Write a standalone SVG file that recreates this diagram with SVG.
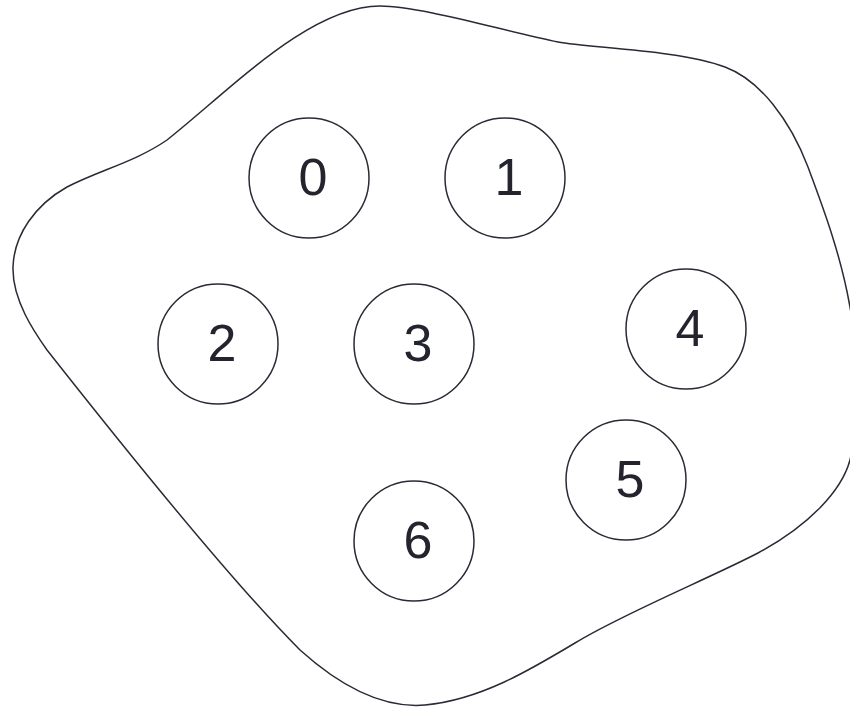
<svg xmlns="http://www.w3.org/2000/svg" width="850" height="707" viewBox="0 0 850 707">
<style>
.node circle{fill:#ffffff;stroke:#2a2a36;stroke-width:1.5}
.node text{font-family:"Liberation Sans",Arial,sans-serif;font-size:52px;fill:#24242f;text-anchor:middle}
.blob{fill:#ffffff;stroke:#2a2a36;stroke-width:1.5}
</style>
<rect width="850" height="707" fill="#ffffff"/>
<g id="region">
<path class="blob" d="M380,6 C420,6 500,30 558,42 C590,48 680,50 725,67 C760,80 790,120 808,167 C820,200 840,250 850,307 C858,350 860,420 850,460 C842,490 810,525 758,553 C710,578 620,615 575,643 C530,670 480,700 425,705 C390,708 350,695 300,650 C230,580 110,430 47,350 C35,333 12,300 13,267 C14,235 35,205 67,187 C100,170 135,162 167,140 C230,90 310,6 380,6 Z"/>
</g>
<g id="connectors"></g>
<g id="node0" class="node"><circle cx="309" cy="178" r="60"/><text x="313" y="195">0</text></g>
<g id="node1" class="node"><circle cx="505" cy="178" r="60"/><text x="509" y="195">1</text></g>
<g id="node2" class="node"><circle cx="218" cy="344" r="60"/><text x="222" y="361">2</text></g>
<g id="node3" class="node"><circle cx="414" cy="344" r="60"/><text x="418" y="361">3</text></g>
<g id="node4" class="node"><circle cx="686" cy="329" r="60"/><text x="690" y="346">4</text></g>
<g id="node5" class="node"><circle cx="626" cy="480" r="60"/><text x="630" y="497">5</text></g>
<g id="node6" class="node"><circle cx="414" cy="541" r="60"/><text x="418" y="558">6</text></g>
</svg>
